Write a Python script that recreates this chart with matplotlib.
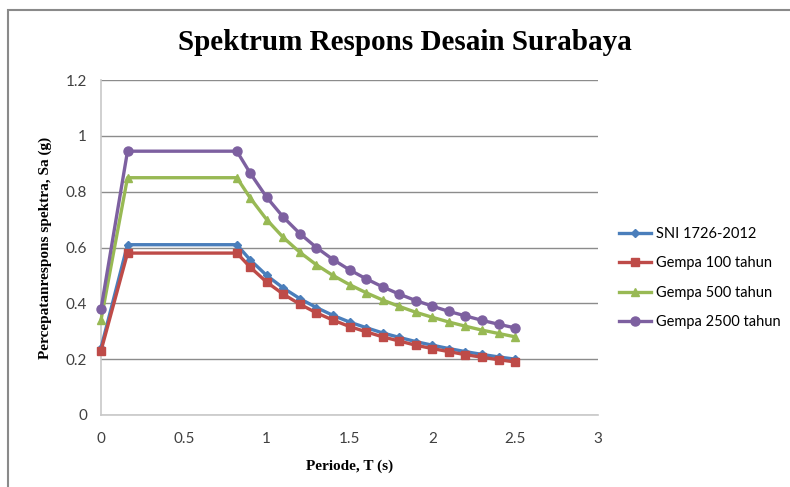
import matplotlib
matplotlib.use("Agg")
import matplotlib.pyplot as plt
from matplotlib.patches import Rectangle

# Periode T (s)
periode = [0, 0.16, 0.82, 0.9, 1.0, 1.1, 1.2, 1.3, 1.4, 1.5, 1.6, 1.7,
           1.8, 1.9, 2.0, 2.1, 2.2, 2.3, 2.4, 2.5]

# Sa (g) per series
sa_sni = [0.24, 0.61, 0.61, 0.556, 0.50, 0.455, 0.417, 0.385, 0.357, 0.333,
          0.313, 0.294, 0.278, 0.263, 0.25, 0.238, 0.227, 0.217, 0.208, 0.20]
sa_100 = [0.23, 0.58, 0.58, 0.53, 0.476, 0.433, 0.397, 0.366, 0.34, 0.317,
          0.298, 0.28, 0.265, 0.25, 0.238, 0.227, 0.216, 0.207, 0.198, 0.19]
sa_500 = [0.34, 0.85, 0.85, 0.778, 0.70, 0.636, 0.583, 0.538, 0.50, 0.467,
          0.438, 0.412, 0.389, 0.368, 0.35, 0.333, 0.318, 0.304, 0.292, 0.28]
sa_2500 = [0.38, 0.945, 0.945, 0.867, 0.78, 0.709, 0.65, 0.60, 0.557, 0.52,
           0.488, 0.459, 0.433, 0.41, 0.39, 0.371, 0.355, 0.339, 0.325, 0.312]

labels = ["SNI 1726-2012", "Gempa 100 tahun", "Gempa 500 tahun", "Gempa 2500 tahun"]
x_ticks = [0, 0.5, 1, 1.5, 2, 2.5, 3]
y_ticks = [0, 0.2, 0.4, 0.6, 0.8, 1, 1.2]

series = [
    (sa_sni, "#4a7ebb", "D", 4.5),
    (sa_100, "#be4b48", "s", 6),
    (sa_500, "#98b954", "^", 6),
    (sa_2500, "#7d60a0", "o", 6.5),
]

fig = plt.figure(figsize=(7.9, 4.87), dpi=100)
ax = fig.add_axes([101 / 790, 1 - 415 / 487, 497 / 790, 335 / 487])

for (vals, color, marker, ms), label in zip(series, labels):
    ax.plot(periode, vals, color=color, marker=marker, markersize=ms,
            linewidth=2.4, label=label, clip_on=False, zorder=3)

ax.set_xlim(0, 3)
ax.set_ylim(0, 1.2)
ax.set_xticks(x_ticks)
ax.set_xticklabels([f"{t:g}" for t in x_ticks])
ax.set_yticks(y_ticks)
ax.set_yticklabels([f"{t:g}" for t in y_ticks])
ax.tick_params(length=0, labelsize=11, labelcolor="#404040")
ax.tick_params(axis="x", pad=12)
ax.tick_params(axis="y", pad=10)
for lab in ax.get_xticklabels() + ax.get_yticklabels():
    lab.set_family("Lato")
ax.yaxis.grid(True, color="#8c8c8c", linewidth=1)
ax.set_axisbelow(True)
for side in ("top", "right"):
    ax.spines[side].set_visible(False)
for side in ("left", "bottom"):
    ax.spines[side].set_color("#c8c8c8")
    ax.spines[side].set_linewidth(1.2)

ax.set_xlabel("Periode, T (s)", family="Liberation Serif", fontweight="bold",
              fontsize=11, labelpad=10)
ax.set_ylabel("Percepatanrespons spektra, Sa (g)", family="Liberation Serif",
              fontweight="bold", fontsize=11, labelpad=10)
fig.text(405 / 790, 1 - 42 / 487, "Spektrum Respons Desain Surabaya",
         family="Liberation Serif", fontweight="bold", fontsize=21,
         ha="center", va="center")

ax.legend(loc="center left", bbox_to_anchor=(606 / 790, 1 - 278 / 487),
          bbox_transform=fig.transFigure, frameon=False,
          handlelength=2.2, handletextpad=0.3, labelspacing=1.05,
          prop={"family": "Lato", "size": 10.5})

# chart frame (only left and top edges inside the picture)
fig.patches.append(Rectangle((8 / 790, -0.1), 1.2, 1 - 10 / 487 + 0.1,
                             transform=fig.transFigure, fill=False,
                             edgecolor="#8a8a8a", linewidth=1.5))

fig.savefig("out.png", dpi=100)
